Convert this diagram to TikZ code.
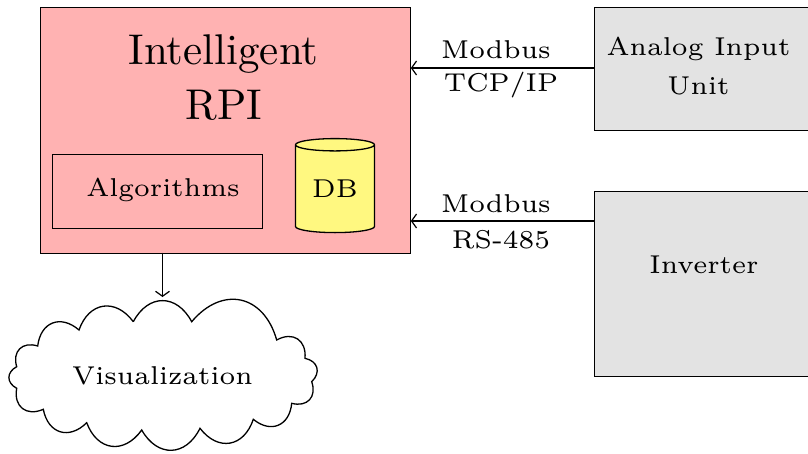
\documentclass[tikz,border=0pt]{standalone}
\usepackage{graphicx}
\usepackage{tikz}
\usetikzlibrary{positioning, arrows.meta, shapes.geometric}

\newcommand{\lbltext}[1]{\scalebox{4.3}{\fontsize{6}{7}\selectfont #1}}
\newcommand{\titletext}[1]{\scalebox{4.3}{\fontsize{10}{12}\selectfont #1}}

\begin{document}
\begin{tikzpicture}[
    x=1pt, y=-1pt,
    block/.style={rectangle, draw, line width=1.3pt, fill=gray!22, anchor=north west, inner sep=0pt},
    rpi/.style={rectangle, draw, line width=1.3pt, fill=red!30, anchor=north west, inner sep=0pt},
    txt/.style={inner sep=0pt, align=center},
    arrow/.style={-{Straight Barb[length=5pt,width=14pt]}, line width=1.2pt}
]
\useasboundingbox (0,0) rectangle (808,453);

% Blocks
\node[rpi, minimum width=370pt, minimum height=246pt] (rpi) at (39.5,6.5) {};
\node[txt] (title1) at (223.5,54) {\titletext{Intelligent}};
\node[txt] (title2) at (224,105) {\titletext{RPI}};
\node[rectangle, draw, line width=1.3pt, anchor=north west, minimum width=210pt, minimum height=74pt, inner sep=0pt] (algo) at (51.5,154) {};
\node[txt] (algotext) at (163,190) {\lbltext{Algorithms}};
\node[cylinder, draw, line width=1.3pt, fill=yellow!50, shape border rotate=90, aspect=0.27, minimum width=79pt, minimum height=94pt, inner sep=0pt] (db) at (335,189) {\lbltext{DB}};
\node[block, minimum width=216pt, minimum height=123pt] (analog) at (593.5,6.5) {};
\node[txt] (analogtext) at (698.5,49) {\lbltext{Analog Input}};
\node[txt] (unittext) at (698.5,86) {\lbltext{Unit}};
\node[block, minimum width=216pt, minimum height=185pt] (inverter) at (593.5,191) {};
\node[txt] (invtext) at (704,265) {\lbltext{Inverter}};

% Cloud
\coordinate (c1) at (133.3,321.7);
\coordinate (c2) at (191.7,321.7);
\coordinate (c3) at (276.7,340);
\coordinate (c4) at (305,358.3);
\coordinate (c5) at (311.7,381.7);
\coordinate (c6) at (291.7,403.3);
\coordinate (c7) at (253.3,419.3);
\coordinate (c8) at (200,428.3);
\coordinate (c9) at (141.7,430);
\coordinate (c10) at (86.7,422.7);
\coordinate (c11) at (43.3,409.3);
\coordinate (c12) at (16.7,388.3);
\coordinate (c13) at (16.7,366.7);
\coordinate (c14) at (37.7,346);
\coordinate (c15) at (79,330);
\draw[line width=1.3pt, bend left=62, looseness=1.4] (c1) to (c2) to (c3) to (c4) to (c5) to (c6) to (c7) to (c8)
    to (c9) to (c10) to (c11) to (c12) to (c13) to (c14) to (c15) to (c1);
\node[txt] (vis) at (162.5,376) {\lbltext{Visualization}};

% Arrows
\coordinate (a1) at (rpi.east |- 0,68);
\coordinate (a2) at (analog.west |- 0,68);
\coordinate (i1) at (rpi.east |- 0,221);
\coordinate (i2) at (inverter.west |- 0,221);
\coordinate (v1) at (162.5,252.5);
\coordinate (v2) at (162.5,297);
\draw[arrow] (a2) -- (a1);
\draw[arrow] (i2) -- (i1);
\draw[arrow] (v1) -- (v2);

% Labels
\node[txt] (m1) at (496,50) {\lbltext{Modbus}};
\node[txt] (t1) at (501,85) {\lbltext{TCP/IP}};
\node[txt] (m2) at (496,204) {\lbltext{Modbus}};
\node[txt] (r2) at (501,240) {\lbltext{RS-485}};
\end{tikzpicture}
\end{document}
